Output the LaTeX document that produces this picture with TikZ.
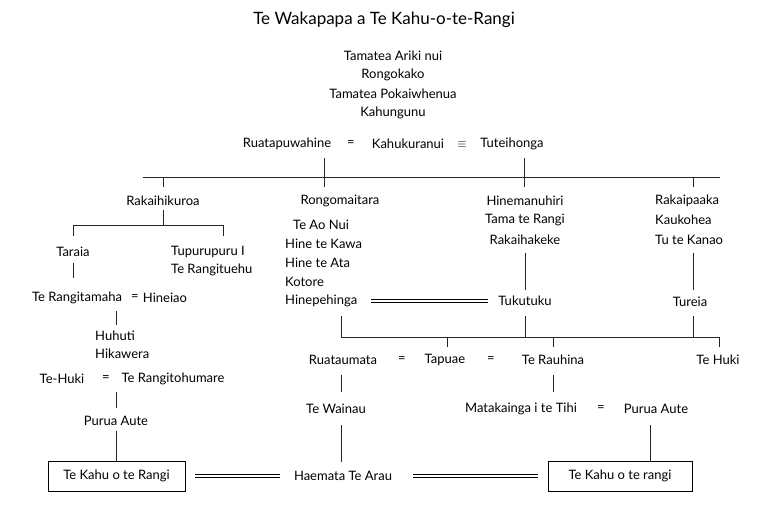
\documentclass[tikz,border=0pt]{standalone}
\usepackage{fontspec}
\setmainfont{Lato}
\begin{document}
\begin{tikzpicture}[x=1pt,y=-1pt,
  t/.style={inner sep=0pt,font=\fontsize{13}{15}\selectfont},
  l/.style={t,anchor=west},
  ln/.style={line width=0.9pt,black!85},
  box/.style={t,draw,line width=0.9pt,minimum width=137pt,minimum height=30pt},
  dbl/.style={line width=0.8pt,double distance=2.2pt}]
\useasboundingbox (0,0) rectangle (768,512);
\node[t,font=\fontsize{17}{19}\selectfont] (title) at (384,20) {Te Wakapapa a Te Kahu-o-te-Rangi};
\node[t] (a1) at (393,56) {Tamatea Ariki nui};
\node[t] (a2) at (393,75) {Rongokako};
\node[t] (a3) at (393,94) {Tamatea Pokaiwhenua};
\node[t] (a4) at (393,113) {Kahungunu};
\node[t] (rw) at (287,144) {Ruatapuwahine};
\node[t] (eq1) at (351,144) {=};
\node[t] (kk) at (408,144) {Kahukuranui};
\node[t] (eq2) at (462,145) {$\equiv$};
\node[t] (tu) at (512,144) {Tuteihonga};
\coordinate (h1) at (143,177); \coordinate (h2) at (720,177);
\draw[ln] (h1) -- (h2);
\draw[ln] (324,158) -- (324,187);
\draw[ln] (524,158) -- (524,187);
\draw[ln] (163,177) -- (163,187);
\draw[ln] (693,177) -- (693,187);
% left branch
\node[t] (rk) at (163,201) {Rakaihikuroa};
\draw[ln] (rk.south) ++(0,4) -- (163,225);
\draw[ln] (73,236) -- (73,225) -- (223,225) -- (223,236);
\node[t] (ta) at (73,252) {Taraia};
\node[l] (tp) at (171,252) {Tupurupuru I};
\node[l] (tr) at (171,270) {Te Rangituehu};
\draw[ln] (73,263) -- (73,278);
\node[t] (trm) at (77,298) {Te Rangitamaha};
\node[t] (eq3) at (135,298) {=};
\node[t] (hi) at (165,298) {Hineiao};
\draw[ln] (116,311) -- (116,325);
\node[l] (hu) at (95,336) {Huhuti};
\node[l] (hk) at (95,354) {Hikawera};
\node[t] (teh) at (62,379) {Te-Huki};
\node[t] (eq4) at (106,379) {=};
\node[t] (trh) at (173,379) {Te Rangitohumare};
\draw[ln] (116,392) -- (116,408);
\node[t] (pa1) at (116,421) {Purua Aute};
\draw[ln] (pa1.south) ++(0,5) -- (116,461);
\node[box] (k1) at (116.5,476) {Te Kahu o te Rangi};
\node[t] (ha) at (343,476) {Haemata Te Arau};
\node[box,minimum width=144pt] (k2) at (620,476) {Te Kahu o te rangi};
\draw[dbl] (195,476) -- (280,476);
\draw[dbl] (413,476) -- (538,476);
% Rongomaitara
\node[t] (ro) at (340,201) {Rongomaitara};
\node[l] (r1) at (293,225) {Te Ao Nui};
\node[l] (r2) at (285,244) {Hine te Kawa};
\node[l] (r3) at (285,263) {Hine te Ata};
\node[l] (r4) at (285,282) {Kotore};
\node[l] (r5) at (285,301) {Hinepehinga};
\node[t] (tk) at (525,301) {Tukutuku};
\draw[dbl] (371,301) -- (488,301);
% Hinemanuhiri
\node[t] (hm) at (525,201) {Hinemanuhiri};
\node[t] (hm2) at (525,220) {Tama te Rangi};
\node[t] (hm3) at (525,240) {Rakaihakeke};
\draw[ln] (525,253) -- (525,290);
% Rakaipaaka
\node[l] (rp) at (655,201) {Rakaipaaka};
\node[l] (rp2) at (655,220) {Kaukohea};
\node[l] (rp3) at (655,240) {Tu te Kanao};
\draw[ln] (693,253) -- (693,290);
\node[t] (tur) at (690,302) {Tureia};
% lower join
\draw[ln] (341,316) -- (341,337) -- (719,337) -- (719,347);
\draw[ln] (525,316) -- (525,337);
\draw[ln] (693,316) -- (693,337);
\draw[ln] (447,337) -- (447,347);
\draw[ln] (553,337) -- (553,347);
\node[t] (ru) at (343,360) {Ruataumata};
\node[t] (eq5) at (402,360) {=};
\node[t] (tpu) at (445,360) {Tapuae};
\node[t] (eq6) at (491,360) {=};
\node[t] (tra) at (553,360) {Te Rauhina};
\node[t] (thk) at (718,360) {Te Huki};
\draw[ln] (341,375) -- (341,392);
\draw[ln] (553,375) -- (553,392);
\node[t] (tw) at (336,409) {Te Wainau};
\node[t] (mt) at (521,409) {Matakainga i te Tihi};
\node[t] (eq7) at (601,409) {=};
\node[t] (pa2) at (656,409) {Purua Aute};
\draw[ln] (341,425) -- (341,462);
\draw[ln] (650,425) -- (k2.north -| 650,0);
\end{tikzpicture}
\end{document}
